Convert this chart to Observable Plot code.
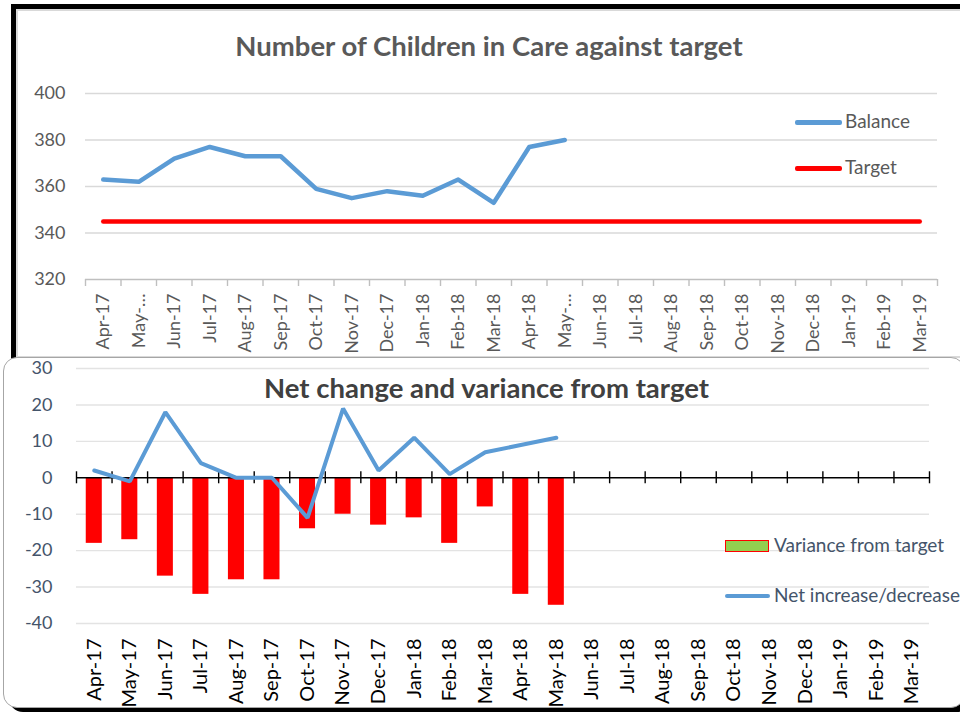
<!DOCTYPE html>
<html>
<head>
<meta charset="utf-8">
<script src="https://cdn.jsdelivr.net/npm/d3@7"></script>
<script src="https://cdn.jsdelivr.net/npm/@observablehq/plot@0.6"></script>
<style>
  html, body { margin: 0; padding: 0; background: #fff; }
  body { width: 960px; height: 713px; overflow: hidden; position: relative; font-family: Lato, "Open Sans", sans-serif; }
  .abs { position: absolute; }
  #frameTop { left: 11px; top: 4px; width: 960px; height: 356px; border-top: 5px solid #000; border-left: 5px solid #000; box-sizing: border-box; }
  #frameTopInner { left: 16px; top: 9px; width: 960px; height: 349px; border-top: 2px solid #d9d9d9; border-left: 2px solid #d9d9d9; border-bottom: 2px solid #d9d9d9; box-sizing: border-box; }
  #frameBot { left: 3px; top: 357px; width: 962px; height: 351px; border: 1.5px solid #a6a6a6; border-radius: 14px; background: #fff; box-shadow: 6px 4px 0 #000; box-sizing: border-box; }
  #chartTop { left: 17px; top: 10px; }
  #chartBot { left: 3px; top: 358px; }
  .title { font-weight: bold; font-size: 27.5px; line-height: 33px; white-space: nowrap; text-align: center; }
  .leg { font-size: 19px; line-height: 22.8px; white-space: nowrap; }
  .sw { position: absolute; }
</style>
</head>
<body>
<div id="frameTop" class="abs"></div>
<div id="frameTopInner" class="abs"></div>
<div id="chartTop" class="abs"></div>
<div id="titleTop" class="abs title" style="left:0;width:978px;top:29px;color:#595959">Number of Children in Care against target</div>
<div class="sw" style="left:795px;top:120px;width:47px;height:4.5px;border-radius:2px;background:#5b9bd5"></div>
<div class="abs leg" style="left:845px;top:110px;color:#595959">Balance</div>
<div class="sw" style="left:795px;top:166px;width:47px;height:4.5px;border-radius:2px;background:#ff0000"></div>
<div class="abs leg" style="left:845px;top:156px;color:#595959">Target</div>

<div id="frameBot" class="abs"></div>
<div id="chartBot" class="abs"></div>
<div id="titleBot" class="abs title" style="left:0;width:973px;top:371px;color:#404040">Net change and variance from target</div>
<div class="sw" style="left:725px;top:540px;width:44px;height:12px;background:#92d050;border:1.5px solid #ff0000;box-sizing:border-box"></div>
<div class="abs leg" style="left:774px;top:534px;color:#44546a">Variance from target</div>
<div class="sw" style="left:725px;top:594px;width:45px;height:4px;border-radius:2px;background:#5b9bd5"></div>
<div class="abs leg" style="left:774px;top:584px;color:#44546a">Net increase/decrease</div>

<script>
// ---------- data ----------
const months = ["Apr-17","May-17","Jun-17","Jul-17","Aug-17","Sep-17","Oct-17","Nov-17","Dec-17","Jan-18","Feb-18","Mar-18",
                "Apr-18","May-18","Jun-18","Jul-18","Aug-18","Sep-18","Oct-18","Nov-18","Dec-18","Jan-19","Feb-19","Mar-19"];
const topTickLabels = ["Apr-17","May-…","Jun-17","Jul-17","Aug-17","Sep-17","Oct-17","Nov-17","Dec-17","Jan-18","Feb-18","Mar-18",
                "Apr-18","May-…","Jun-18","Jul-18","Aug-18","Sep-18","Oct-18","Nov-18","Dec-18","Jan-19","Feb-19","Mar-19"];
const balance = [363, 362, 372, 377, 373, 373, 359, 355, 358, 356, 363, 353, 377, 380];
const target = [345, 345, 345, 345, 345, 345, 345, 345, 345, 345, 345, 345,
                345, 345, 345, 345, 345, 345, 345, 345, 345, 345, 345, 345];
const topYTicks = [320, 340, 360, 380, 400];

const variance = [-18, -17, -27, -32, -28, -28, -14, -10, -13, -11, -18, -8, -32, -35];
const netChange = [2, -1, 18, 4, 0, 0, -11, 19, 2, 11, 1, 7, 9, 11];
const botYTicks = [-40, -30, -20, -10, 0, 10, 20, 30];

const FONT = "Lato, 'Open Sans', sans-serif";

// ---------- top chart ----------
{
  const W = 943, H = 345, ml = 68, mr = 23, mt = 83, mb = 76;
  const bw = (W - ml - mr) / months.length;
  const balData = balance.map((v, i) => ({m: months[i], v}));
  const tgtData = target.map((v, i) => ({m: months[i], v}));
  const chart = Plot.plot({
    width: W, height: H, marginLeft: ml, marginRight: mr, marginTop: mt, marginBottom: mb,
    style: {fontFamily: FONT, background: "transparent", overflow: "visible"},
    x: {type: "band", domain: months, padding: 0, round: false, label: null},
    y: {domain: [320, 400], label: null},
    marks: [
      Plot.ruleY(topYTicks.filter(d => d !== 320), {stroke: "#d9d9d9", strokeWidth: 1.4}),
      Plot.ruleY([320], {stroke: "#bfbfbf", strokeWidth: 1.4}),
      Plot.ruleX(months, {x: d => d, y1: 320, y2: 320, insetBottom: -7, dx: -bw / 2, stroke: "#bfbfbf", strokeWidth: 1.4}),
      Plot.ruleX(months.slice(-1), {x: d => d, y1: 320, y2: 320, insetBottom: -7, dx: bw / 2, stroke: "#bfbfbf", strokeWidth: 1.4}),
      Plot.axisY({ticks: topYTicks, tickSize: 0, tickPadding: 20, fontSize: 18, fill: "#595959", label: null, tickFormat: d => String(d)}),
      Plot.axisX({tickSize: 0, tickPadding: 14, tickRotate: -90, fontSize: 18, fill: "#595959", label: null,
                  tickFormat: d => topTickLabels[months.indexOf(d)]}),
      Plot.line(tgtData, {x: "m", y: "v", stroke: "#ff0000", strokeWidth: 4.5, strokeLinecap: "round"}),
      Plot.line(balData, {x: "m", y: "v", stroke: "#5b9bd5", strokeWidth: 4.5, strokeLinecap: "round", strokeLinejoin: "round"})
    ]
  });
  document.getElementById("chartTop").appendChild(chart);
}

// ---------- bottom chart ----------
{
  const W = 954, H = 352, ml = 73, mr = 28, mt = 10, mb = 87;
  const bw = (W - ml - mr) / months.length;
  const varData = variance.map((v, i) => ({m: months[i], v}));
  const netData = netChange.map((v, i) => ({m: months[i], v}));
  const chart = Plot.plot({
    width: W, height: H, marginLeft: ml, marginRight: mr, marginTop: mt, marginBottom: mb,
    style: {fontFamily: FONT, background: "transparent", overflow: "visible"},
    x: {type: "band", domain: months, padding: 0, round: false, label: null},
    y: {domain: [-40, 30], label: null},
    marks: [
      Plot.ruleY(botYTicks.filter(d => d !== 0), {stroke: "#e3e3e3", strokeWidth: 1.4}),
      Plot.barY(varData, {x: "m", y: "v", fill: "#ff0000", insetLeft: 9.75, insetRight: 9.75}),
      Plot.ruleY([0], {stroke: "#000", strokeWidth: 1.4}),
      Plot.ruleX(months, {x: d => d, y1: 0, y2: 0, insetTop: -6, insetBottom: -6, dx: -bw / 2, stroke: "#000", strokeWidth: 1.4}),
      Plot.ruleX(months.slice(-1), {x: d => d, y1: 0, y2: 0, insetTop: -6, insetBottom: -6, dx: bw / 2, stroke: "#000", strokeWidth: 1.4}),
      Plot.line(netData, {x: "m", y: "v", stroke: "#5b9bd5", strokeWidth: 4, strokeLinecap: "round", strokeLinejoin: "miter"}),
      Plot.axisY({ticks: botYTicks, tickSize: 0, tickPadding: 24, fontSize: 18, fill: "#44546a", label: null, tickFormat: d => String(d)}),
      Plot.axisX({tickSize: 0, tickPadding: 15, tickRotate: -90, fontSize: 20, fill: "#000", label: null})
    ]
  });
  document.getElementById("chartBot").appendChild(chart);
}
</script>
</body>
</html>
